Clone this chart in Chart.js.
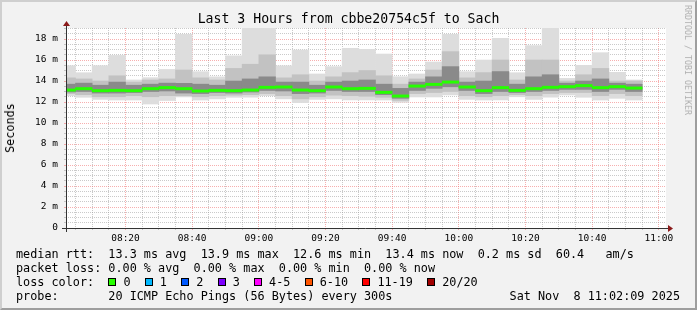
<!DOCTYPE html>
<html>
<head>
<meta charset="utf-8">
<script src="https://cdn.jsdelivr.net/npm/chart.js@4.4.1/dist/chart.umd.min.js"></script>
<style>
  html, body { margin: 0; padding: 0; background: #f2f2f2; }
  #wrap { position: relative; width: 697px; height: 310px; overflow: hidden; background: #f2f2f2;
          font-family: "DejaVu Sans Mono", monospace; color: #000; }
  #chart { position: absolute; left: 0; top: 0; }
  #frame { position: absolute; left: 0; top: 0; width: 697px; height: 310px; box-sizing: border-box;
           border-top: 2px solid #cfcfcf; border-left: 2px solid #cfcfcf;
           border-right: 2px solid #9e9e9e; border-bottom: 2px solid #9e9e9e; pointer-events: none; }
  .txt { position: absolute; white-space: pre; }
  #title { left: 0; width: 697px; text-align: center; top: 11px; font-size: 13.2px; line-height: 16px; }
  #ylabel { left: 10px; top: 128px; font-size: 11.8px; line-height: 14px;
            transform: translate(-50%, -50%) rotate(-90deg); }
  #credit { left: 687.5px; top: 60px; font-size: 8.3px; line-height: 10px; color: #b0b0b0;
            transform: translate(-50%, -50%) rotate(90deg); }
  .leg { left: 16px; font-size: 11.8px; line-height: 14px; height: 14px; }
  #lossRow { display: flex; align-items: center; }
  .box { display: inline-block; width: 8px; height: 8px; border: 1px solid #000; box-sizing: border-box;
         margin-right: 7.1px; }
  #date { left: auto; right: 17px; }
</style>
</head>
<body>
<div id="wrap">
  <canvas id="chart" width="697" height="310"></canvas>
  <div class="txt" id="title"></div>
  <div class="txt" id="ylabel">Seconds</div>
  <div class="txt" id="credit">RRDTOOL / TOBI OETIKER</div>
  <div class="txt leg" id="rttRow" style="top:247px"></div>
  <div class="txt leg" id="lossStatRow" style="top:261px"></div>
  <div class="txt leg" id="lossRow" style="top:275px"></div>
  <div class="txt leg" id="probeRow" style="top:289px"></div>
  <div class="txt leg" id="date" style="top:289px"></div>
  <div id="frame"></div>
</div>
<script>
const chartTitle = "Last 3 Hours from cbbe20754c5f to Sach";
const graphStart = "08:02:09";
const graphEnd = "11:02:09";

// end time of each 5 minute step
const bucketEnds = [
  "08:05", "08:10", "08:15", "08:20", "08:25", "08:30", "08:35", "08:40", "08:45", "08:50",
  "08:55", "09:00", "09:05", "09:10", "09:15", "09:20", "09:25", "09:30", "09:35", "09:40",
  "09:45", "09:50", "09:55", "10:00", "10:05", "10:10", "10:15", "10:20", "10:25", "10:30",
  "10:35", "10:40", "10:45", "10:50", "10:55"
];

// rtt in ms
const pingMax = [
  15.46, 14.79, 15.46, 16.44, 14.10, 14.32, 15.10, 18.44, 14.89, 14.40,
  16.40, 19.05, 19.05, 15.45, 16.95, 14.67, 15.37, 17.11, 17.02, 16.57,
  14.41, 14.67, 15.81, 18.44, 14.89, 16.00, 18.06, 14.79, 17.37, 19.10,
  14.25, 15.49, 16.70, 14.83, 14.10
];
const pingP90 = [
  14.30, 14.20, 14.00, 14.50, 13.90, 14.10, 14.20, 15.05, 14.30, 14.10,
  15.20, 15.60, 16.50, 14.30, 14.60, 14.00, 14.40, 14.80, 15.00, 14.50,
  13.70, 14.20, 15.05, 16.80, 14.30, 14.80, 16.00, 14.10, 16.00, 16.00,
  14.00, 14.60, 15.20, 14.00, 14.00
];
const pingP75 = [
  13.70, 13.80, 13.60, 13.90, 13.60, 13.70, 13.80, 13.78, 13.70, 13.60,
  14.00, 14.20, 14.40, 13.90, 13.90, 13.60, 13.90, 14.00, 14.10, 13.70,
  13.30, 13.90, 14.40, 15.37, 13.90, 14.00, 14.90, 13.70, 14.40, 14.60,
  13.80, 14.00, 14.20, 13.80, 13.70
];
const medianRtt = [
  13.14, 13.27, 13.08, 13.11, 13.08, 13.27, 13.37, 13.27, 13.05, 13.11,
  13.08, 13.14, 13.40, 13.43, 13.14, 13.08, 13.43, 13.27, 13.30, 12.92,
  12.57, 13.52, 13.68, 13.90, 13.43, 13.08, 13.37, 13.11, 13.27, 13.40,
  13.46, 13.56, 13.37, 13.46, 13.33
];
const pingP25 = [
  12.95, 13.00, 12.85, 12.85, 12.90, 13.00, 13.05, 12.85, 12.80, 12.90,
  12.85, 12.95, 13.10, 13.05, 12.80, 12.85, 13.10, 13.00, 13.00, 12.70,
  12.35, 13.10, 13.30, 13.45, 13.10, 12.80, 13.00, 12.90, 13.00, 13.10,
  13.20, 13.20, 13.00, 13.20, 13.00
];
const pingP10 = [
  12.80, 12.70, 12.50, 12.50, 12.60, 12.50, 12.60, 12.60, 12.50, 12.60,
  12.65, 12.70, 12.80, 12.60, 12.30, 12.50, 12.65, 12.60, 12.55, 12.45,
  12.15, 12.80, 12.90, 13.00, 12.60, 12.50, 12.60, 12.70, 12.60, 12.80,
  12.90, 12.90, 12.60, 12.80, 12.60
];
const pingMin = [
  12.60, 12.45, 12.25, 12.19, 12.19, 11.81, 12.14, 12.48, 12.19, 12.30,
  12.45, 12.45, 12.60, 12.30, 11.94, 12.25, 12.30, 12.19, 12.19, 12.19,
  11.97, 12.48, 12.48, 12.67, 12.25, 12.19, 12.19, 12.50, 12.25, 12.45,
  12.67, 12.45, 12.19, 12.35, 12.19
];

const timeLabels = ["08:20", "08:40", "09:00", "09:20", "09:40", "10:00", "10:20", "10:40", "11:00"];
const yTickLabels = ["0", "2 m", "4 m", "6 m", "8 m", "10 m", "12 m", "14 m", "16 m", "18 m"];
const yMax = 19.05;

const rttStats = ["13.3 ms avg", "13.9 ms max", "12.6 ms min", "13.4 ms now", "0.2 ms sd", "60.4   am/s"];
const lossStats = ["0.00 % avg", "0.00 % max", "0.00 % min", "0.00 % now"];
const lossLabels = ["0", "1", "2", "3", "4-5", "6-10", "11-19", "20/20"];
const lossColors = ["#26ff00", "#00b8ff", "#0059ff", "#7e00ff", "#ff00ff", "#ff5500", "#ff0000", "#a10000"];
const probeText = "20 ICMP Echo Pings (56 Bytes) every 300s";
const dateText = "Sat Nov  8 11:02:09 2025";

// minutes after 08:00
function toMin(s) {
  const p = s.split(":").map(Number);
  return (p[0] - 8) * 60 + p[1] + (p[2] || 0) / 60;
}

const centers = bucketEnds.map((t) => toMin(t) - 2.5);
const labelMinutes = timeLabels.map(toMin);
const xMinor = [];
for (let m = 5; m <= 180; m += 5) xMinor.push(m);
const yMinor = [];
for (let v = 0; v <= 19; v += 0.5) yMinor.push(v);

const MED_HALF = 0.11;

function band(label, lo, hi, color, order) {
  return {
    label,
    data: centers.map((x, i) => ({ x, y: [lo[i], hi[i]] })),
    backgroundColor: color,
    borderWidth: 0,
    grouped: false,
    barPercentage: 1,
    categoryPercentage: 1,
    clip: 0,
    order,
  };
}

const datasets = [
  band("median", medianRtt.map((m) => m - MED_HALF), medianRtt.map((m) => m + MED_HALF), lossColors[0], 0),
  band("p25-p75", pingP25, pingP75, "#8a8a8a", 1),
  band("p10-p90", pingP10, pingP90, "#c2c2c2", 2),
  band("min-max", pingMin, pingMax, "#dddddd", 3),
];

const tickFont = { family: "DejaVu Sans Mono", size: 9.5 };
const MAJOR = "rgba(240,110,110,0.55)";
const MINOR = "rgba(150,150,150,0.5)";
const isMajorX = (c) => !!c.tick && labelMinutes.includes(c.tick.value);
const isMajorY = (c) => !!c.tick && c.tick.value % 2 === 0;

const rrdFrame = {
  id: "rrdFrame",
  beforeDraw(chart) {
    const { ctx, chartArea: a } = chart;
    ctx.save();
    ctx.fillStyle = "#ffffff";
    ctx.fillRect(a.left, a.top, a.right - a.left, a.bottom - a.top);
    ctx.restore();
  },
  afterDraw(chart) {
    const { ctx, chartArea: a } = chart;
    ctx.save();
    ctx.strokeStyle = "#333333";
    ctx.lineWidth = 1;
    ctx.beginPath();
    ctx.moveTo(a.left - 4, a.bottom + 0.5);
    ctx.lineTo(a.right + 3, a.bottom + 0.5);
    ctx.moveTo(a.left + 0.5, a.bottom + 4);
    ctx.lineTo(a.left + 0.5, a.top - 3);
    ctx.stroke();
    ctx.fillStyle = "#8b1a1a";
    ctx.beginPath();
    ctx.moveTo(a.right + 2, a.bottom - 3);
    ctx.lineTo(a.right + 2, a.bottom + 4);
    ctx.lineTo(a.right + 7, a.bottom + 0.5);
    ctx.fill();
    ctx.beginPath();
    ctx.moveTo(a.left - 3, a.top - 2);
    ctx.lineTo(a.left + 4, a.top - 2);
    ctx.lineTo(a.left + 0.5, a.top - 7);
    ctx.fill();
    ctx.restore();
  },
};

new Chart(document.getElementById("chart"), {
  type: "bar",
  data: { datasets },
  plugins: [rrdFrame],
  options: {
    responsive: false,
    animation: false,
    devicePixelRatio: 1,
    layout: { padding: { left: 0, right: 31, top: 28, bottom: 62 } },
    plugins: { legend: { display: false }, tooltip: { enabled: false } },
    scales: {
      x: {
        type: "linear",
        min: toMin(graphStart),
        max: toMin(graphEnd),
        offset: false,
        z: 1,
        afterBuildTicks: (ax) => { ax.ticks = xMinor.map((v) => ({ value: v })); },
        afterFit: (ax) => { ax.height = 20; },
        ticks: {
          autoSkip: false,
          maxRotation: 0,
          padding: 3,
          color: "#000",
          font: tickFont,
          callback: (v) => {
            const i = labelMinutes.indexOf(v);
            return i >= 0 ? timeLabels[i] : "";
          },
        },
        grid: {
          offset: false,
          color: (c) => (isMajorX(c) ? MAJOR : MINOR),
          tickColor: (c) => (isMajorX(c) ? MAJOR : MINOR),
          tickLength: 2,
          lineWidth: 1,
        },
        border: { display: false, dash: [1, 1] },
      },
      y: {
        type: "linear",
        min: 0,
        max: yMax,
        z: 1,
        afterBuildTicks: (ax) => { ax.ticks = yMinor.map((v) => ({ value: v })); },
        afterFit: (ax) => { ax.width = 66; },
        ticks: {
          autoSkip: false,
          padding: 6,
          color: "#000",
          font: tickFont,
          callback: (v) => (v % 2 === 0 ? yTickLabels[v / 2] : ""),
        },
        grid: {
          color: (c) => (isMajorY(c) ? MAJOR : MINOR),
          tickColor: (c) => (isMajorY(c) ? MAJOR : MINOR),
          tickLength: 2,
          lineWidth: 1,
        },
        border: { display: false, dash: [1, 1] },
      },
    },
  },
});

// text parts of the rrdtool picture
document.getElementById("title").textContent = chartTitle;
document.getElementById("rttRow").textContent = "median rtt:  " + rttStats.join("  ");
document.getElementById("lossStatRow").textContent = "packet loss: " + lossStats.join("  ");
document.getElementById("probeRow").textContent = "probe:       " + probeText;
document.getElementById("date").textContent = dateText;

const lossRow = document.getElementById("lossRow");
const head = document.createElement("span");
head.textContent = "loss color:  ";
lossRow.appendChild(head);
lossLabels.forEach((lab, i) => {
  const b = document.createElement("span");
  b.className = "box";
  b.style.background = lossColors[i];
  lossRow.appendChild(b);
  const t = document.createElement("span");
  t.textContent = lab + "  ";
  lossRow.appendChild(t);
});
</script>
</body>
</html>
